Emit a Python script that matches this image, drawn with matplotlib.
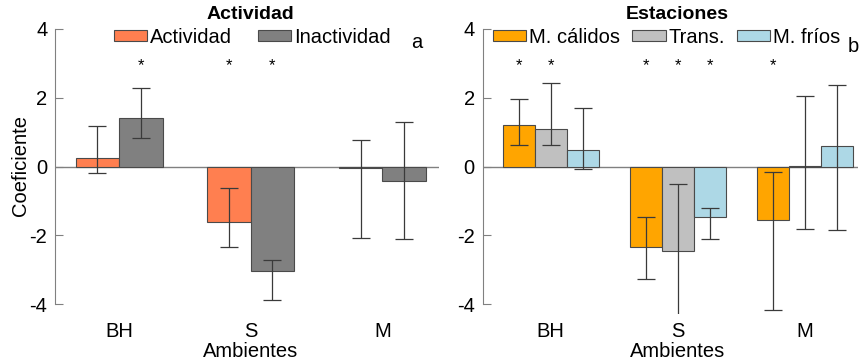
import matplotlib
matplotlib.use("Agg")
import matplotlib.pyplot as plt
from matplotlib import transforms

plt.rcParams['font.family'] = ['Liberation Sans', 'DejaVu Sans']
plt.rcParams['axes.unicode_minus'] = False

ambientes = ["BH", "S", "M"]

# panel a : actividad / inactividad
act_series = ["Actividad", "Inactividad"]
act_colores = ["#FF7F50", "#808080"]
act_coef = [[0.25, -1.61, -0.05], [1.41, -3.04, -0.41]]
act_inf = [[-0.20, -2.35, -2.08], [0.83, -3.87, -2.10]]
act_sup = [[1.19, -0.63, 0.78], [2.29, -2.71, 1.29]]
act_sig = [[False, True, False], [True, True, False]]

# panel b : estaciones
est_series = ["M. cálidos", "Trans.", "M. fríos"]
est_colores = ["#FFA500", "#C0C0C0", "#ADD8E6"]
est_coef = [[1.20, -2.35, -1.56], [1.08, -2.46, 0.02], [0.47, -1.47, 0.59]]
est_inf = [[0.62, -3.28, -4.16], [0.64, -4.43, -1.81], [-0.07, -2.10, -1.85]]
est_sup = [[1.97, -1.48, -0.15], [2.43, -0.50, 2.06], [1.69, -1.21, 2.38]]
est_sig = [[True, True, True], [True, True, False], [False, True, False]]

W, H = 859, 362
fig = plt.figure(figsize=(W / 100, H / 100), dpi=100)

# positions des axes en pixels (y: 4 -> 29 px, -4 -> 304 px)
ymin, ymax = -4.3, 4.3
px_par_unite = (304 - 29) / 8
haut = 29 - (ymax - 4) * px_par_unite
bas = 304 + (-4 - ymin) * px_par_unite


def axes_px(x0, x1):
    return fig.add_axes([x0 / W, (H - bas) / H, (x1 - x0) / W, (bas - haut) / H])


def dibujar_panel(ax, coef, inf, sup, sig, series, colores, ancho, xlim,
                  titulo, leg_x, colsp):
    n = len(series)
    x = [1, 2, 3]
    for i in range(n):
        pos = [xi + (i - (n - 1) / 2) * ancho for xi in x]
        ax.bar(pos, coef[i], width=ancho, color=colores[i], edgecolor="#4a4a4a",
               linewidth=0.8, label=series[i], zorder=2)
        yerr = [[c - l for c, l in zip(coef[i], inf[i])],
                [s - c for c, s in zip(coef[i], sup[i])]]
        ax.errorbar(pos, coef[i], yerr=yerr, fmt="none", ecolor="#3a3a3a",
                    elinewidth=0.9, capsize=6.5, capthick=0.9, zorder=3)
        for p, s in zip(pos, sig[i]):
            if s:
                ax.text(p, 2.93, "*", ha="center", va="center", fontsize=12)
    ax.axhline(0, color="#808080", linewidth=1, zorder=1)
    ax.set_xlim(*xlim)
    ax.set_ylim(ymin, ymax)
    for lado in ["top", "right", "bottom"]:
        ax.spines[lado].set_visible(False)
    ax.spines["left"].set_bounds(-4, 4)
    ax.spines["left"].set_color("#808080")
    ax.set_yticks([-4, -2, 0, 2, 4])
    ax.tick_params(axis="y", direction="in", length=6, color="#808080",
                   labelsize=14.5, pad=5.5)
    ax.set_xticks(x, ambientes)
    ax.tick_params(axis="x", length=0, labelsize=14.5, pad=5.5)
    trans = transforms.blended_transform_factory(ax.transData, ax.transAxes)
    ax.text(2, -0.125, "Ambientes", transform=trans, ha="center", va="center",
            fontsize=14.5)
    ax.text(2, 1.0125, titulo, transform=trans, ha="center", va="center",
            fontsize=14, fontweight="bold")
    ax.legend(loc="center", bbox_to_anchor=(leg_x, 0.938), ncol=n, frameon=False,
              fontsize=14.5, handlelength=1.65, handleheight=0.52,
              handletextpad=0.15, columnspacing=colsp, borderpad=0,
              borderaxespad=0)


ax1 = axes_px(55, 439)
dibujar_panel(ax1, act_coef, act_inf, act_sup, act_sig, act_series, act_colores,
              0.33, (0.513, 3.43), "Actividad", 0.514, 1.3)

ax2 = axes_px(482.5, 858)
dibujar_panel(ax2, est_coef, est_inf, est_sup, est_sig, est_series, est_colores,
              0.252, (0.462, 3.42), "Estaciones", 0.491, 0.6)

fig.text(21 / W, (H - 165) / H, "Coeficiente", rotation=90, ha="center",
         va="center", fontsize=14.5)
fig.text(417 / W, (H - 43) / H, "a", ha="center", va="center", fontsize=14.5)
fig.text(853 / W, (H - 47) / H, "b", ha="center", va="center", fontsize=14.5)

fig.savefig("out.png", dpi=100)
